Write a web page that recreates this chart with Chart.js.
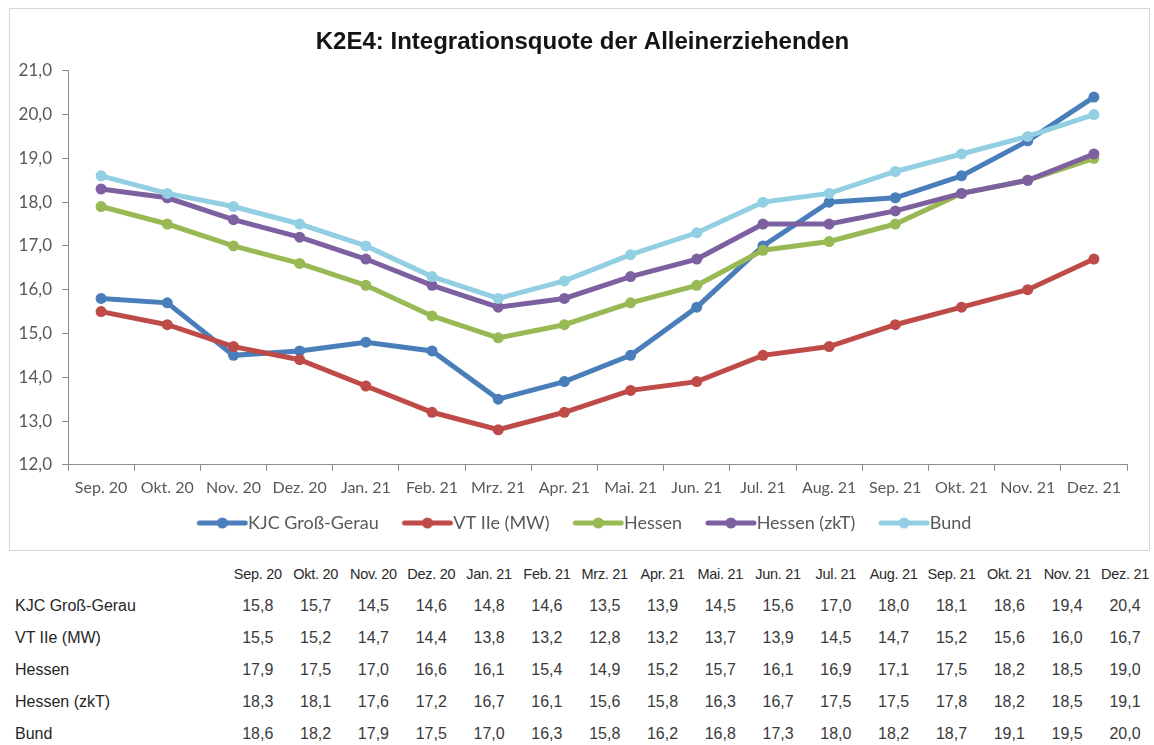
<!DOCTYPE html>
<html lang="de">
<head>
<meta charset="utf-8">
<title>K2E4: Integrationsquote der Alleinerziehenden</title>
<script src="https://cdn.jsdelivr.net/npm/chart.js@4.4.1/dist/chart.umd.min.js"></script>
<style>
  html, body { margin: 0; padding: 0; background: #fff; }
  body { width: 1154px; height: 745px; position: relative; overflow: hidden; }
  #box {
    position: absolute; left: 9px; top: 8px; width: 1141px; height: 543px;
    border: 1px solid #d6d6d6; box-sizing: border-box;
  }
  #box canvas { display: block; }
  #table {
    position: absolute; left: 15px; top: 558px;
    border-collapse: collapse; table-layout: fixed;
    font-family: "Liberation Sans", Arial, sans-serif; color: #3a3a3a;
  }
  #table td, #table th { padding: 0; height: 32px; white-space: nowrap; }
  #table th { font-size: 14.5px; font-weight: normal; letter-spacing: -0.3px; color: #2a2a2a; text-align: center; }
  #table td { font-size: 16px; text-align: center; }
  #table td.lbl { text-align: left; color: #262626; }
</style>
</head>
<body>
<div id="box"><canvas id="chart" width="1139" height="541"></canvas></div>
<table id="table"></table>
<script>
// --- data -------------------------------------------------------------
const MONTHS = ['Sep. 20', 'Okt. 20', 'Nov. 20', 'Dez. 20', 'Jan. 21', 'Feb. 21', 'Mrz. 21', 'Apr. 21',
                'Mai. 21', 'Jun. 21', 'Jul. 21', 'Aug. 21', 'Sep. 21', 'Okt. 21', 'Nov. 21', 'Dez. 21'];

const KJC_GROSS_GERAU = [15.8, 15.7, 14.5, 14.6, 14.8, 14.6, 13.5, 13.9, 14.5, 15.6, 17.0, 18.0, 18.1, 18.6, 19.4, 20.4];
const VT_IIE_MW       = [15.5, 15.2, 14.7, 14.4, 13.8, 13.2, 12.8, 13.2, 13.7, 13.9, 14.5, 14.7, 15.2, 15.6, 16.0, 16.7];
const HESSEN          = [17.9, 17.5, 17.0, 16.6, 16.1, 15.4, 14.9, 15.2, 15.7, 16.1, 16.9, 17.1, 17.5, 18.2, 18.5, 19.0];
const HESSEN_ZKT      = [18.3, 18.1, 17.6, 17.2, 16.7, 16.1, 15.6, 15.8, 16.3, 16.7, 17.5, 17.5, 17.8, 18.2, 18.5, 19.1];
const BUND            = [18.6, 18.2, 17.9, 17.5, 17.0, 16.3, 15.8, 16.2, 16.8, 17.3, 18.0, 18.2, 18.7, 19.1, 19.5, 20.0];

const SERIES_LABELS = ['KJC Groß-Gerau', 'VT IIe (MW)', 'Hessen', 'Hessen (zkT)', 'Bund'];
const SERIES_VALUES = [KJC_GROSS_GERAU, VT_IIE_MW, HESSEN, HESSEN_ZKT, BUND];

const Y_MIN = 12, Y_MAX = 21, Y_STEP = 1;

// --- styles -----------------------------------------------------------
const COLORS = ['#4a7ebb', '#be4b48', '#98b954', '#7d60a0', '#93cfe3'];
const AXIS_TEXT = '#595959';
const AXIS_LINE = '#8c8c8c';
const deNum = v => v.toFixed(1).replace('.', ',');

// legend marker: thick line with a dot in the middle, like the Excel original.
// The image is wider than the legend box; its transparent left part gives the
// gap to the previous entry while the line runs right up to the label text.
function legendMarker(color) {
  const c = document.createElement('canvas');
  c.width = 74; c.height = 12;
  const g = c.getContext('2d');
  g.strokeStyle = color; g.lineWidth = 5; g.lineCap = 'round';
  g.beginPath(); g.moveTo(25, 6); g.lineTo(71, 6); g.stroke();
  g.fillStyle = color;
  g.beginPath(); g.arc(48, 6, 5.5, 0, Math.PI * 2); g.fill();
  return c;
}

const datasets = SERIES_VALUES.map((vals, i) => ({
  label: SERIES_LABELS[i],
  data: vals,
  borderColor: COLORS[i],
  backgroundColor: COLORS[i],
  borderWidth: 5,
  pointRadius: 5.5,
  pointBorderWidth: 0,
  pointBackgroundColor: COLORS[i],
  pointStyle: 'circle',
  tension: 0,
  order: SERIES_VALUES.length - i,   // later series drawn on top, as in Excel
  legendMarker: legendMarker(COLORS[i])
}));

// the Excel title and legend sit a bit right of the canvas centre
const shiftBlocks = {
  id: 'shiftBlocks',
  afterLayout(chart) {
    if (chart.titleBlock) chart.titleBlock.left += 28;
    if (chart.legend) chart.legend.left += 18;
  }
};

new Chart(document.getElementById('chart'), {
  type: 'line',
  data: { labels: MONTHS, datasets },
  plugins: [shiftBlocks],
  options: {
    responsive: false,
    animation: false,
    events: [],
    layout: { padding: { top: 0, right: 22, bottom: 8, left: 0 } },
    plugins: {
      title: {
        display: true,
        text: 'K2E4: Integrationsquote der Alleinerziehenden',
        color: '#141414',
        font: { family: '"Liberation Sans", Arial, sans-serif', size: 24, weight: 'bold' },
        padding: { top: 19, bottom: 14 }
      },
      legend: {
        position: 'bottom',
        labels: {
          usePointStyle: true,
          pointStyleWidth: 55.5,
          padding: 10,
          color: AXIS_TEXT,
          font: { family: 'Lato, "Open Sans", sans-serif', size: 18 },
          sort: (a, b) => a.datasetIndex - b.datasetIndex,
          generateLabels: chart => chart.data.datasets.map((ds, i) => ({
            text: ds.label,
            pointStyle: ds.legendMarker,
            fillStyle: ds.borderColor,
            strokeStyle: ds.borderColor,
            lineWidth: 0,
            fontColor: AXIS_TEXT,
            hidden: false,
            datasetIndex: i
          }))
        }
      },
      tooltip: { enabled: false }
    },
    scales: {
      x: {
        type: 'category',
        offset: true,
        grid: { offset: true, drawOnChartArea: false, drawTicks: true, tickLength: 6, color: AXIS_LINE },
        border: { display: true, color: AXIS_LINE, width: 1 },
        ticks: {
          autoSkip: false, maxRotation: 0, padding: 7,
          color: AXIS_TEXT,
          font: { family: 'Lato, "Open Sans", sans-serif', size: 16 }
        }
      },
      y: {
        type: 'linear',
        min: Y_MIN, max: Y_MAX,
        afterFit: s => { s.width = 58; },
        grid: { drawOnChartArea: false, drawTicks: true, tickLength: 6, color: AXIS_LINE },
        border: { display: true, color: AXIS_LINE, width: 1 },
        ticks: {
          stepSize: Y_STEP, padding: 10,
          color: AXIS_TEXT,
          font: { family: 'Lato, "Open Sans", sans-serif', size: 17 },
          callback: v => deNum(v)
        }
      }
    }
  }
});

// --- data table below the chart ---------------------------------------
const table = document.getElementById('table');
let html = '<colgroup><col style="width:216px">' + MONTHS.map(() => '<col style="width:58.1px">').join('') + '</colgroup>';
html += '<tr><th></th>' + MONTHS.map(m => `<th>${m}</th>`).join('') + '</tr>';
SERIES_VALUES.forEach((vals, i) => {
  html += `<tr><td class="lbl">${SERIES_LABELS[i]}</td>` + vals.map(v => `<td>${deNum(v)}</td>`).join('') + '</tr>';
});
table.innerHTML = html;
</script>
</body>
</html>
